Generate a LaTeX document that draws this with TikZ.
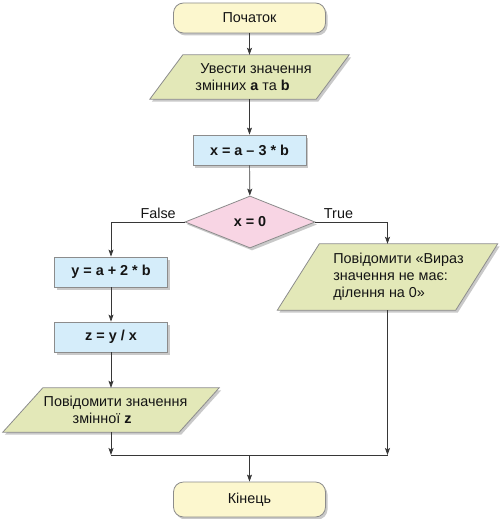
\documentclass[tikz,border=0pt]{standalone}
\usepackage{fontspec}
\setmainfont{Liberation Sans}
\usetikzlibrary{shapes.geometric,shadows,arrows.meta,calc}
\pgfdeclarelayer{background}
\pgfsetlayers{background,main}
\definecolor{termfill}{RGB}{252,247,206}
\definecolor{iofill}{RGB}{227,232,184}
\definecolor{procfill}{RGB}{213,237,250}
\definecolor{decfill}{RGB}{248,213,228}
\definecolor{bordc}{RGB}{140,140,140}
\definecolor{linec}{RGB}{55,55,55}
\definecolor{txtc}{RGB}{20,20,20}
\begin{document}
\begin{tikzpicture}[x=1pt,y=1pt,
  font=\fontsize{14.4}{17}\selectfont, text=txtc,
  shad/.style={drop shadow={shadow xshift=2pt,shadow yshift=-2.5pt,opacity=0.3,fill=black!70}},
  term/.style={rectangle, rounded corners=10pt, draw=bordc, line width=0.8pt, fill=termfill,
    minimum width=152pt, minimum height=30pt, shad},
  proc/.style={rectangle, draw=bordc, line width=0.8pt, fill=procfill,
    minimum width=113pt, minimum height=30pt, font=\fontsize{14.4}{17}\selectfont\bfseries, shad},
  decision/.style={diamond, draw=bordc, line width=0.8pt, fill=decfill,
    minimum width=130pt, minimum height=52pt, inner sep=0pt, font=\fontsize{14.4}{17}\selectfont\bfseries, shad},
  ionode/.style={rectangle, draw=none, inner sep=0pt},
  iopoly/.style={fill=iofill, draw=bordc, line width=0.8pt, shad},
  ln/.style={draw=linec, line width=0.7pt},
  arr/.style={ln, -{Stealth[length=7pt,width=5pt,inset=1.5pt]}},
  lbl/.style={inner sep=1pt, anchor=south, yshift=2.5pt}
]
\useasboundingbox (0,0) rectangle (500,-519);

\node[term] (start) at (249.5,-18) {Початок};
\node[ionode, minimum width=166pt, minimum height=44pt,
  label={[align=left, xshift=4pt]center:{\hspace*{5pt}Увести значення\\змінних \textbf{a} та \textbf{b}}}]
  (in1) at (249.5,-77) {};
\node[proc] (calc1) at (249.5,-150) {x = a – 3 * b};
\node[decision] (dec) at (250,-222) {x = 0};
\node[proc] (ybox) at (111,-272) {y = a + 2 * b};
\node[proc] (zbox) at (111,-337) {z = y / x};
\node[ionode, minimum width=176pt, minimum height=44pt,
  label={[align=left, xshift=4.5pt]center:{Повідомити значення\\\hspace*{29pt}змінної \textbf{z}}}]
  (out1) at (111,-410) {};
\node[ionode, minimum width=178pt, minimum height=66pt,
  label={[align=left, xshift=11pt]center:{Повідомити «Вираз\\значення не має:\\ділення на 0»}}]
  (out2) at (387.5,-277) {};
\node[term, minimum height=35pt] (end) at (249.5,-499.5) {Кінець};

\begin{pgfonlayer}{background}
\foreach \n/\s in {in1/33, out1/40, out2/42} {
  \path[iopoly] ([xshift=\s/2]\n.north west) -- ([xshift=\s/2]\n.north east)
    -- ([xshift=-\s/2]\n.south east) -- ([xshift=-\s/2]\n.south west) -- cycle;
}
\end{pgfonlayer}

\draw[arr] (start) -- (in1);
\draw[arr] (in1) -- (calc1);
\draw[arr] (calc1) -- (dec);
\draw[arr] (dec.west) -| node[lbl, pos=0.18] {False} (ybox.north);
\draw[arr] (dec.east) -| node[lbl, pos=0.16] {True} (out2.north);
\draw[arr] (ybox) -- (zbox);
\draw[arr] (zbox) -- (out1);
\coordinate (m) at (249.5,-455);
\draw[arr] (out1.south) -- (out1.south |- m);
\draw[arr] (out2.south) -- (out2.south |- m);
\draw[ln] (out1.south |- m) -- (out2.south |- m);
\draw[arr] (m) -- (end.north);
\end{tikzpicture}
\end{document}
